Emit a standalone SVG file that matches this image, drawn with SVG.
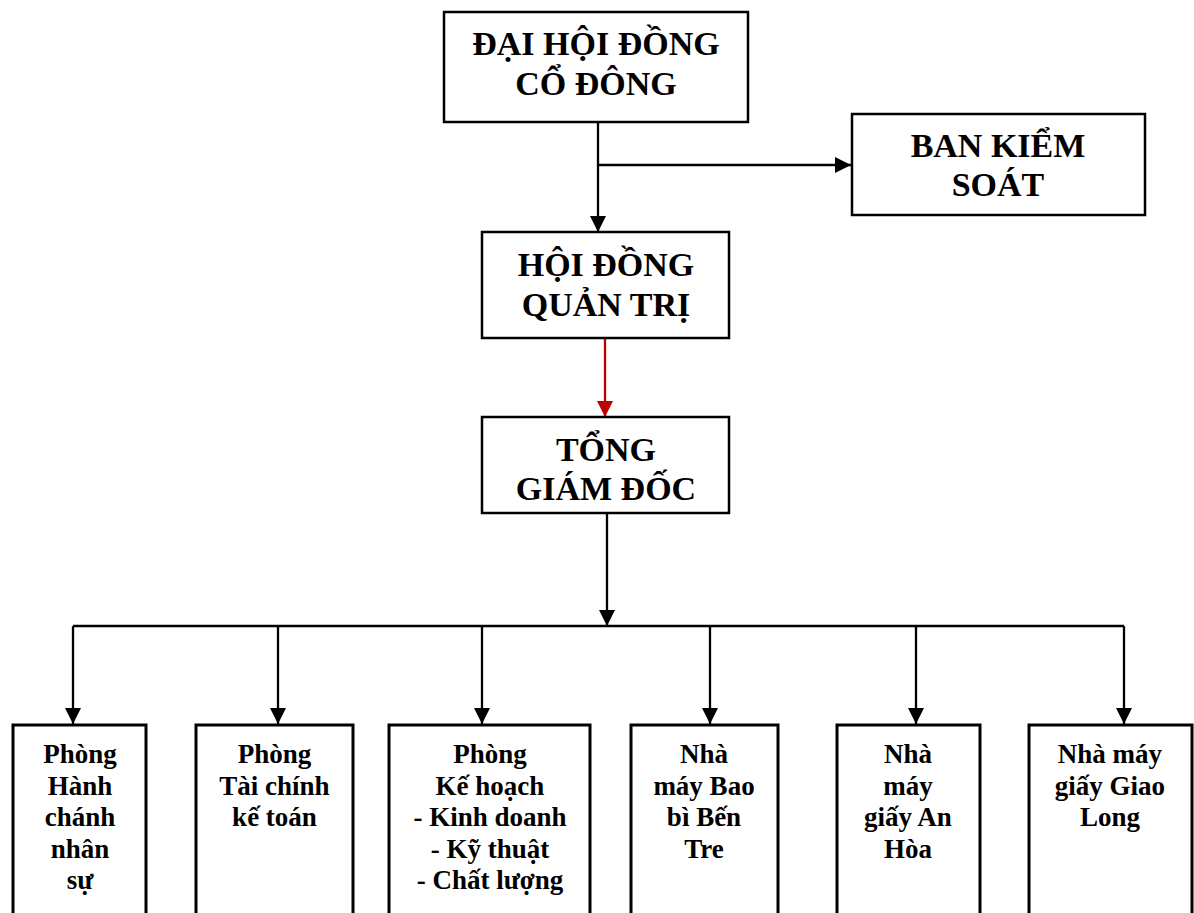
<svg xmlns="http://www.w3.org/2000/svg" width="1194" height="913" viewBox="0 0 1194 913">
<style>
.box{fill:#fff;stroke:#000;stroke-width:2.5}
.bbox{fill:#fff;stroke:#000;stroke-width:3}
.t{font-family:"Liberation Serif","Times New Roman",serif;font-weight:bold;font-size:34px;text-anchor:middle;fill:#000}
.s{font-family:"Liberation Serif","Times New Roman",serif;font-weight:bold;font-size:27px;text-anchor:middle;fill:#000}
.ln{fill:none;stroke:#000;stroke-width:2.3}
.red{fill:none;stroke:#c00000;stroke-width:2.3}
</style>
<defs>
<marker id="ah" markerUnits="userSpaceOnUse" markerWidth="17" markerHeight="17" refX="16" refY="8" orient="auto"><path d="M0,0 L16,8 L0,16 z" fill="#000"/></marker>
<marker id="ahr" markerUnits="userSpaceOnUse" markerWidth="17" markerHeight="17" refX="16" refY="8" orient="auto"><path d="M0,0 L16,8 L0,16 z" fill="#c00000"/></marker>
</defs>
<rect width="1194" height="913" fill="#fff"/>
<g id="connectors">
<path class="ln" d="M598,122 V232" marker-end="url(#ah)"/>
<path class="ln" d="M598,165 H851" marker-end="url(#ah)"/>
<path class="red" d="M605,338 V417" marker-end="url(#ahr)"/>
<path class="ln" d="M607,513 V626" marker-end="url(#ah)"/>
<path class="ln" d="M73,626 H1124"/>
<path class="ln" d="M73,626 V724" marker-end="url(#ah)"/>
<path class="ln" d="M278,626 V724" marker-end="url(#ah)"/>
<path class="ln" d="M482,626 V724" marker-end="url(#ah)"/>
<path class="ln" d="M710,626 V724" marker-end="url(#ah)"/>
<path class="ln" d="M916,626 V724" marker-end="url(#ah)"/>
<path class="ln" d="M1124,626 V724" marker-end="url(#ah)"/>
</g>
<g id="dhdcd">
<rect class="box" x="444" y="12" width="304" height="110"/>
<text class="t" x="596" y="55">ĐẠI HỘI ĐỒNG</text>
<text class="t" x="596" y="95">CỔ ĐÔNG</text>
</g>
<g id="bks">
<rect class="box" x="852" y="114" width="293" height="101"/>
<text class="t" x="998" y="157">BAN KIỂM</text>
<text class="t" x="998" y="196">SOÁT</text>
</g>
<g id="hdqt">
<rect class="box" x="482" y="232" width="247" height="106"/>
<text class="t" x="606" y="276">HỘI ĐỒNG</text>
<text class="t" x="606" y="316">QUẢN TRỊ</text>
</g>
<g id="tgd">
<rect class="box" x="482" y="417" width="247" height="96"/>
<text class="t" x="606" y="461">TỔNG</text>
<text class="t" x="606" y="500">GIÁM ĐỐC</text>
</g>
<g id="p1">
<rect class="bbox" x="13" y="725" width="133" height="200"/>
<text class="s" x="80" y="763">Phòng<tspan x="80" dy="31.5">Hành</tspan><tspan x="80" dy="31.5">chánh</tspan><tspan x="80" dy="31.5">nhân</tspan><tspan x="80" dy="31.5">sự</tspan></text>
</g>
<g id="p2">
<rect class="bbox" x="196" y="725" width="157" height="200"/>
<text class="s" x="274.5" y="763">Phòng<tspan x="274.5" dy="31.5">Tài chính</tspan><tspan x="274.5" dy="31.5">kế toán</tspan></text>
</g>
<g id="p3">
<rect class="bbox" x="389" y="725" width="201" height="200"/>
<text class="s" x="490" y="763">Phòng<tspan x="490" dy="31.5">Kế hoạch</tspan><tspan x="490" dy="31.5">- Kinh doanh</tspan><tspan x="490" dy="31.5">- Kỹ thuật</tspan><tspan x="490" dy="31.5">- Chất lượng</tspan></text>
</g>
<g id="p4">
<rect class="bbox" x="631" y="725" width="147" height="200"/>
<text class="s" x="704" y="763">Nhà<tspan x="704" dy="31.5">máy Bao</tspan><tspan x="704" dy="31.5">bì Bến</tspan><tspan x="704" dy="31.5">Tre</tspan></text>
</g>
<g id="p5">
<rect class="bbox" x="837" y="725" width="143" height="200"/>
<text class="s" x="908" y="763">Nhà<tspan x="908" dy="31.5">máy</tspan><tspan x="908" dy="31.5">giấy An</tspan><tspan x="908" dy="31.5">Hòa</tspan></text>
</g>
<g id="p6">
<rect class="bbox" x="1029" y="725" width="163" height="200"/>
<text class="s" x="1110" y="763">Nhà máy<tspan x="1110" dy="31.5">giấy Giao</tspan><tspan x="1110" dy="31.5">Long</tspan></text>
</g>
</svg>
